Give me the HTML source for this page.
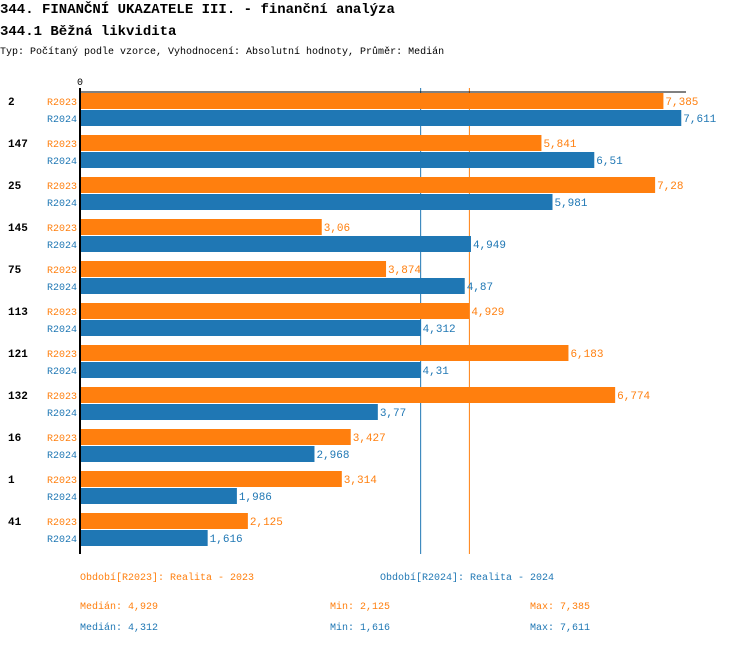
<!DOCTYPE html>
<html><head><meta charset="utf-8"><style>
body{margin:0;background:#fff;width:750px;height:644px;overflow:hidden;font-family:"Liberation Mono",monospace;}
svg text{font-family:"Liberation Mono",monospace;}
</style></head><body>
<svg width="750" height="644">
<text x="0" y="13" font-size="14" font-weight="bold">344. FINANČNÍ UKAZATELE III. - finanční analýza</text>
<text x="0" y="35" font-size="14" font-weight="bold">344.1 Běžná likvidita</text>
<text x="0" y="54" font-size="10">Typ: Počítaný podle vzorce, Vyhodnocení: Absolutní hodnoty, Průměr: Medián</text>
<text x="80" y="85" font-size="10" text-anchor="middle">0</text>
<g id="medlines"></g>
<g id="bars"></g>
<line x1="80" y1="92" x2="686" y2="92" stroke="#000" stroke-width="1"/>
<line x1="80" y1="88" x2="80" y2="554" stroke="#000" stroke-width="2"/>
<text x="80" y="580" font-size="10" fill="#ff7f0e">Období[R2023]: Realita - 2023</text>
<text x="380" y="580" font-size="10" fill="#1f77b4">Období[R2024]: Realita - 2024</text>
<g id="stats"></g>
</svg>
<script>
const categories=["2","147","25","145","75","113","121","132","16","1","41"];
const r2023=[7.385,5.841,7.28,3.06,3.874,4.929,6.183,6.774,3.427,3.314,2.125];
const r2024=[7.611,6.51,5.981,4.949,4.87,4.312,4.31,3.77,2.968,1.986,1.616];
const seriesNames=["R2023","R2024"];
const colors=["#ff7f0e","#1f77b4"];
const NS="http://www.w3.org/2000/svg";
const x0=80,scale=79.0;
const xs=v=>x0+v*scale;
const fmt=v=>String(+v.toFixed(3)).replace('.',',');
function el(t,a,txt){const e=document.createElementNS(NS,t);for(const k in a)e.setAttribute(k,a[k]);if(txt!=null)e.textContent=txt;return e;}
const g=document.getElementById('bars');
categories.forEach((c,i)=>{
  const y=93+i*42;
  const lab=el('text',{x:8,y:y+12,'font-size':11,'font-weight':'bold'},c);
  
  
  g.appendChild(lab);
  [r2023,r2024].forEach((arr,s)=>{
    const by=y+s*17;
    const r=el('rect',{x:x0,y:by,width:xs(arr[i])-x0,height:16,fill:colors[s]});
    
    
    g.appendChild(r);
    const sl=el('text',{x:x0-3,y:by+12,'font-size':10,fill:colors[s],'text-anchor':'end'},seriesNames[s]);
    
    
    g.appendChild(sl);
    const vl=el('text',{x:xs(arr[i])+2,y:by+12,'font-size':11,fill:colors[s]},fmt(arr[i]));
    
    
    g.appendChild(vl);
  });
});
function median(a){const b=[...a].sort((p,q)=>p-q);const m=b.length>>1;return b.length%2?b[m]:(b[m-1]+b[m])/2;}
const mg=document.getElementById('medlines');
const st=document.getElementById('stats');
[r2023,r2024].forEach((arr,s)=>{
  const m=median(arr);
  const l=el('line',{x1:xs(m),x2:xs(m),y1:88,y2:554,stroke:colors[s],'stroke-width':1});
  
  
  mg.appendChild(l);
  const y=609+s*21;
  const vals=[["Medián: ",m,80],["Min: ",Math.min(...arr),330],["Max: ",Math.max(...arr),530]];
  vals.forEach(v=>{
    const t=el('text',{x:v[2],y:y,'font-size':10,fill:colors[s]},v[0]+fmt(v[1]));
    
    
    st.appendChild(t);
  });
});
</script>
</body></html>
